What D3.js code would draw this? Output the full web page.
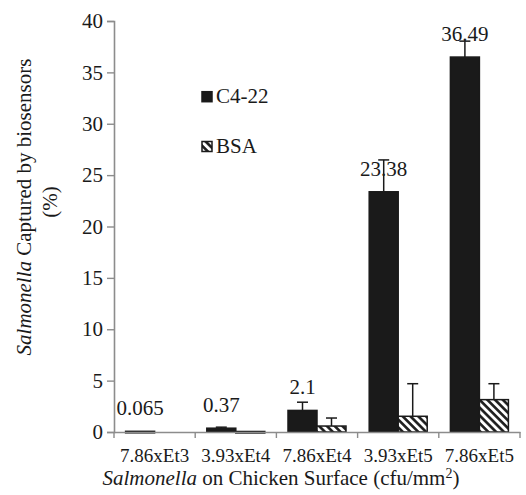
<!DOCTYPE html>
<html><head><meta charset="utf-8">
<script src="https://cdn.jsdelivr.net/npm/d3@7"></script>
<style>
html, body { margin:0; background:#fff; font-family: "Liberation Serif", "Times New Roman", serif; }
svg, svg * { font-family: "Liberation Serif", "Times New Roman", serif !important; }
</style>
</head><body>
<svg id="c" width="526" height="495"></svg>
<script>
const categories = ["7.86xEt3","3.93xEt4","7.86xEt4","3.93xEt5","7.86xEt5"];
const c422Values = [0.065, 0.37, 2.1, 23.38, 36.49];
const c422Errors = [0.0, 0.1, 0.8, 3.1, 1.55];
const bsaValues = [0.0, 0.05, 0.58, 1.53, 3.15];
const bsaErrors = [0.0, 0.0, 0.78, 3.17, 1.55];
const c422Labels = ["0.065","0.37","2.1","23.38","36.49"];
const yTicks = [0,5,10,15,20,25,30,35,40];
const seriesNames = ["C4-22","BSA"];

const svg = d3.select("#c");
const mLeft = 114, mRight = 520, mTop = 21, mBottom = 432;
const ink = "#1a1a1a";

function txt(sel, size){
  return sel.style("font-family",'"Liberation Serif"').style("font-size",size+"px").attr("fill",ink);
}

const defs = svg.append("defs");
const pat = defs.append("pattern").attr("id","hatch").attr("patternUnits","userSpaceOnUse")
  .attr("width",5.5).attr("height",5.5).attr("patternTransform","rotate(-45)");
pat.append("rect").attr("width",5.5).attr("height",5.5).attr("fill","#fff");
pat.append("line").attr("x1",1.4).attr("y1",0).attr("x2",1.4).attr("y2",5.5).attr("stroke",ink).attr("stroke-width",2.6);

const x = d3.scaleBand().domain(categories).range([mLeft,mRight]).paddingInner(0).paddingOuter(0);
const y = d3.scaleLinear().domain([0,40]).range([mBottom,mTop]);
const inner = d3.scaleBand().domain(seriesNames).range([0,x.bandwidth()]).paddingInner(0).paddingOuter(0.4);
const axisColor = "#8c8c8c";

// y axis
const yAx = svg.append("g").attr("transform",`translate(${mLeft},0)`)
  .call(d3.axisLeft(y).tickValues(yTicks).tickSize(7).tickPadding(4).tickFormat(d3.format("d")));
yAx.attr("font-family",null).attr("font-size",null);
yAx.select(".domain").attr("stroke",axisColor).attr("stroke-width",1.6);
yAx.selectAll(".tick line").attr("stroke",axisColor).attr("stroke-width",1.4);
txt(yAx.selectAll("text"),21);

// bars
const data = categories.map((c,i)=>({c, vals:[
  {s:"C4-22", v:c422Values[i], e:c422Errors[i]},
  {s:"BSA", v:bsaValues[i], e:bsaErrors[i]}]}));

const g = svg.append("g");
data.forEach((d,i)=>{
  d.vals.forEach(b=>{
    const bx = x(d.c)+inner(b.s);
    const bw = inner.bandwidth();
    const cx = bx + bw/2;
    if (b.e>0){
      g.append("line").attr("x1",cx).attr("x2",cx).attr("y1",y(b.v)).attr("y2",y(b.v+b.e))
        .attr("stroke",ink).attr("stroke-width",1.5);
      g.append("line").attr("x1",cx-5.5).attr("x2",cx+5.5).attr("y1",y(b.v+b.e)).attr("y2",y(b.v+b.e))
        .attr("stroke",ink).attr("stroke-width",1.5);
    }
    if (b.v>0){
      g.append("rect").attr("x",bx).attr("width",bw).attr("y",y(b.v)).attr("height",Math.max(1.5,y(0)-y(b.v)))
        .attr("fill", b.s==="C4-22" ? ink : "url(#hatch)")
        .attr("stroke",ink).attr("stroke-width",1.5);
    }
  });
  txt(g.append("text").attr("x",x(d.c)+inner("C4-22")+inner.bandwidth()/2).attr("y",y(d.vals[0].v)-16)
    .attr("text-anchor","middle"),21).text(c422Labels[i]);
});

// x axis
const xAx = svg.append("g").attr("transform",`translate(0,${mBottom})`)
  .call(d3.axisBottom(x).tickSize(0).tickPadding(17));
xAx.attr("font-family",null).attr("font-size",null);
xAx.select(".domain").attr("stroke",axisColor).attr("stroke-width",1.6);
txt(xAx.selectAll("text"),19);
const bounds = [mLeft].concat(categories.map(c=>x(c)+x.bandwidth()));
xAx.selectAll(".bound").data(bounds).enter().append("line")
  .attr("x1",d=>d).attr("x2",d=>d).attr("y1",0).attr("y2",6)
  .attr("stroke",axisColor).attr("stroke-width",1.4);

// axis titles
const xt = txt(svg.append("text").attr("x",281).attr("y",485).attr("text-anchor","middle"),21);
xt.append("tspan").style("font-style","italic").text("Salmonella");
xt.append("tspan").text(" on Chicken Surface (cfu/mm");
xt.append("tspan").style("font-size","14px").attr("dy",-7).text("2");
xt.append("tspan").attr("dy",7).text(")");

const yt = txt(svg.append("text").attr("transform","translate(31,207) rotate(-90)").attr("text-anchor","middle"),21);
yt.append("tspan").style("font-style","italic").text("Salmonella");
yt.append("tspan").text(" Captured by biosensors");
txt(svg.append("text").attr("transform","translate(57,202) rotate(-90)").attr("text-anchor","middle"),21).text("(%)");

// legend
const leg = svg.append("g");
const legY = [91.7, 141.5];
seriesNames.forEach((s,i)=>{
  leg.append("rect").attr("x",202).attr("y",legY[i]).attr("width",10).attr("height",10)
    .attr("fill", s==="C4-22" ? ink : "url(#hatch)").attr("stroke",ink).attr("stroke-width",1.5);
  txt(leg.append("text").attr("x",216).attr("y",legY[i]+11.5),21).text(s);
});
</script>
</body></html>
